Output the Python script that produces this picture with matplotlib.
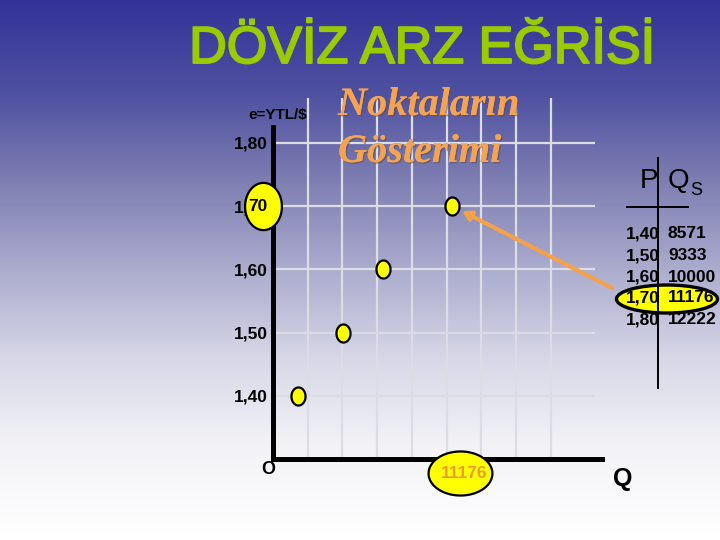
import numpy as np
import matplotlib
matplotlib.use("Agg")
import matplotlib.pyplot as plt
from matplotlib.colors import LinearSegmentedColormap
from matplotlib.path import Path
from matplotlib.patches import Ellipse
import matplotlib.transforms as mtransforms
import matplotlib.patheffects as pe

plt.rcParams['font.family'] = ['Liberation Sans', 'DejaVu Sans']

# ---- data ----
prices = [1.40, 1.50, 1.60, 1.70, 1.80]
price_labels = ["1,40", "1,50", "1,60", "1,70", "1,80"]
quantities = [8571, 9333, 10000, 11176, 12222]
plotted_n = 4            # points drawn on the chart (1,40 .. 1,70)
highlight_idx = 3        # 1,70 -> 11176
title = "DÖVİZ ARZ EĞRİSİ"
subtitle = ["Noktaların", "Gösterimi"]
y_axis_title = "e=YTL/$"
x_axis_title = "Q"
origin_label = "O"

W, H = 720, 540
fig = plt.figure(figsize=(W / 100, H / 100), dpi=100)

# background gradient
bg = fig.add_axes([0, 0, 1, 1], zorder=-5)
cmap = LinearSegmentedColormap.from_list("bg", [
    (0.00, (51/255, 51/255, 153/255)),
    (0.17, (78/255, 80/255, 160/255)),
    (0.33, (125/255, 125/255, 178/255)),
    (0.50, (172/255, 172/255, 206/255)),
    (0.67, (216/255, 216/255, 232/255)),
    (0.83, (243/255, 243/255, 247/255)),
    (1.00, (1, 1, 1)),
])
grad = np.linspace(0, 1, 540).reshape(-1, 1)
bg.imshow(grad, aspect='auto', cmap=cmap, extent=[0, 1, 0, 1], origin='upper')
bg.axis('off')

# main axes
ax = fig.add_axes([273 / W, 1 - 459 / H, (602 - 273) / W, (459 - 98) / H], zorder=1)
ax.patch.set_alpha(0)
ax.set_xlim(8140, 13714)
ax.set_ylim(1.30, 1.871)
for s in ['top', 'right']:
    ax.spines[s].set_visible(False)
for s in ['left', 'bottom']:
    ax.spines[s].set_linewidth(3.6)
    ax.spines[s].set_color('black')
    ax.spines[s].set_zorder(3)
ax.spines['left'].set_bounds(1.30, 1.825)
ax.spines['left'].set_capstyle('projecting')
ax.set_xticks([])
ax.set_yticks(prices)
ax.set_yticklabels(price_labels, fontsize=12.5, fontweight='bold')
ax.tick_params(axis='y', length=0, pad=4)

grid_c = '#dcdce4'
# horizontal grid lines at price levels
ax.hlines(prices, 0, 0.98, transform=ax.get_yaxis_transform(), colors=grid_c,
          lw=1.6, zorder=1)
# vertical grid lines (decorative, evenly spaced)
for k in range(1, 9):
    ax.plot([k * 0.1056, k * 0.1056], [0, 1], transform=ax.transAxes,
            color=grid_c, lw=1.6, zorder=1)

# ellipse marker
t = np.linspace(0, 2 * np.pi, 60)
tall_ell = Path(np.column_stack([0.78 * np.cos(t), np.sin(t)]))
wide_ell = Path(np.column_stack([np.cos(t), 0.69 * np.sin(t)]))

ax.plot(quantities[:plotted_n], prices[:plotted_n], linestyle='none',
        marker=tall_ell, ms=13, mfc='#ffff00', mec='black', mew=1.6,
        zorder=6, clip_on=False)

# highlight of the 1,70 tick label
ytr = mtransforms.blended_transform_factory(ax.transAxes, ax.transData)
ax.plot([-0.030], [prices[highlight_idx]], transform=ytr, marker=tall_ell,
        ms=34, mfc='#ffff00', mec='black', mew=1.6, zorder=5, clip_on=False)
ax.annotate(price_labels[highlight_idx][2:], xy=(0, prices[highlight_idx]),
            xycoords=ytr, xytext=(-4, 0), textcoords='offset points',
            ha='right', va='center', fontsize=12.5, fontweight='bold',
            zorder=7, annotation_clip=False)

# highlight of 11176 on x axis
xtr = mtransforms.blended_transform_factory(ax.transData, ax.transAxes) + \
    mtransforms.ScaledTranslation(8 / 100, 0, fig.dpi_scale_trans)
ax.plot([quantities[highlight_idx]], [-0.039], transform=xtr, marker=wide_ell,
        ms=46, mfc='#ffff00', mec='black', mew=1.6, zorder=5, clip_on=False)
ax.text(quantities[highlight_idx], -0.039, str(quantities[highlight_idx]),
        transform=xtr + mtransforms.ScaledTranslation(4 / 100, 0, fig.dpi_scale_trans),
        ha='center', va='center', fontsize=12.5, fontweight='bold',
        color='#eb9d2e', zorder=7, clip_on=False)

# overlay axes in pixel coordinates
ov = fig.add_axes([0, 0, 1, 1], zorder=2)
ov.patch.set_alpha(0)
ov.set_xlim(0, W)
ov.set_ylim(H, 0)
ov.axis('off')

ov.text(422, 63, title, ha='center', va='baseline', fontsize=37.5,
        color='#99cc00',
        path_effects=[pe.withStroke(linewidth=1.4, foreground='#99cc00')])
sub_fx = [pe.withSimplePatchShadow(offset=(1, -1), shadow_rgbFace='#5a4a40',
                                   alpha=0.5), pe.Normal()]
ov.text(338, 115, subtitle[0], ha='left', va='baseline', fontsize=29,
        style='italic', fontweight='bold', family='Liberation Serif',
        color='#f4a352', path_effects=sub_fx)
ov.text(338, 162, subtitle[1], ha='left', va='baseline', fontsize=29,
        style='italic', fontweight='bold', family='Liberation Serif',
        color='#f4a352', path_effects=sub_fx)
ov.text(278, 115, y_axis_title, ha='center', va='center', fontsize=11,
        fontweight='bold')
ov.text(268, 470, origin_label, ha='center', va='center', fontsize=13,
        fontweight='bold')
ov.text(623, 479, x_axis_title, ha='center', va='center', fontsize=18,
        fontweight='bold')

# supply table
ov.add_patch(Ellipse((667, 299), 101, 28, facecolor='#ffff00',
                     edgecolor='black', lw=2.4, zorder=1))
ov.text(640, 188, "P", ha='left', va='baseline', fontsize=20)
ov.text(668, 188, "Q", ha='left', va='baseline', fontsize=20)
ov.text(690, 195, "S", ha='left', va='baseline', fontsize=13)
row_y = [234, 256, 277, 298, 320]
for y, pl, q in zip(row_y, price_labels, quantities):
    ov.text(626, y, pl, ha='left', va='center', fontsize=12.5,
            fontweight='bold', zorder=2)
    ov.text(668, y, str(q), ha='left', va='center', fontsize=12.5,
            fontweight='bold', zorder=2)
ov.plot([658, 658], [158, 388], color='black', lw=1.4, zorder=3)
ov.plot([627, 688], [207, 207], color='black', lw=1.4, zorder=3)

# arrow from table to the plotted point
ax.annotate("", xy=(quantities[highlight_idx], prices[highlight_idx]),
            xycoords='data', xytext=(612, 288), textcoords=ov.transData,
            arrowprops=dict(arrowstyle='-|>,head_length=0.5,head_width=0.3',
                            color='#f4a24a', lw=3, shrinkA=0, shrinkB=8),
            zorder=8, annotation_clip=False)

fig.savefig("out.png", dpi=100)
